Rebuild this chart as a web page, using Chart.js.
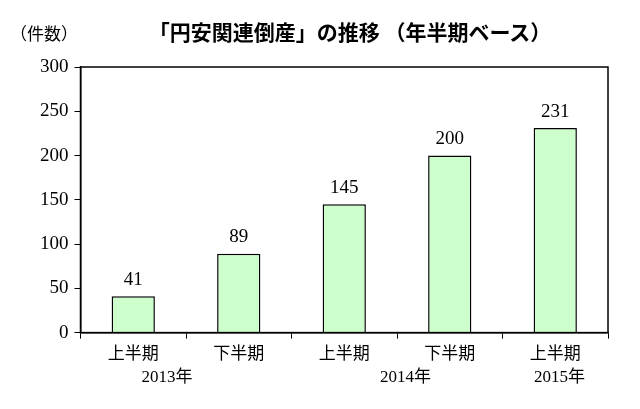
<!DOCTYPE html>
<html lang="ja">
<head>
  <meta charset="UTF-8">
  <title>円安関連倒産の推移</title>
  <script src="https://cdn.jsdelivr.net/npm/chart.js"></script>
  <style>
    body { margin: 0; background: #fff; }
    #wrap { position: relative; width: 640px; height: 409px; }
    #title { position: absolute; left: 0; width: 640px; top: 16px; text-align: center; padding-left: 60px; box-sizing: border-box;
      font: bold 21px "Noto Sans CJK JP", sans-serif; color: #000; }
    #unit { position: absolute; left: 10px; top: 20px; font: 17px "Noto Sans CJK JP", sans-serif; }
  </style>
</head>
<body>
  <div id="wrap">
    <div id="title">「円安関連倒産」の推移 （年半期ベース）</div>
    <div id="unit">（件数）</div>
    <canvas id="c" width="640" height="409"></canvas>
  </div>
  <script>
    const halves = ['上半期', '下半期', '上半期', '下半期', '上半期'];
    const counts = [41, 89, 145, 200, 231];
    const years = [['2013年', 0.32], ['2014年', 2.58], ['2015年', 4.04]];

    const barLabels = {
      id: 'barLabels',
      afterDatasetsDraw(chart) {
        const ctx = chart.ctx;
        const meta = chart.getDatasetMeta(0);
        ctx.save();
        ctx.font = '19px "Liberation Serif", serif';
        ctx.fillStyle = '#000';
        ctx.textAlign = 'center';
        ctx.textBaseline = 'bottom';
        meta.data.forEach((bar, i) => ctx.fillText(counts[i], bar.x, bar.y - 7));
        const x = chart.scales.x;
        ctx.font = '17px "Liberation Serif", "Noto Sans CJK JP", serif';
        ctx.textBaseline = 'middle';
        years.forEach(([t, v]) => ctx.fillText(t, x.getPixelForValue(v), 378));
        ctx.restore();
      }
    };

    new Chart(document.getElementById('c'), {
      type: 'bar',
      data: {
        labels: halves,
        datasets: [{
          data: counts,
          backgroundColor: '#ccffcc',
          borderColor: '#000',
          borderWidth: 1.5,
          categoryPercentage: 1,
          barPercentage: 0.41
        }]
      },
      options: {
        responsive: false,
        animation: false,
        layout: { padding: { top: 67, right: 32, bottom: 42, left: 34 } },
        plugins: { legend: { display: false }, tooltip: { enabled: false } },
        scales: {
          x: {
            grid: { offset: true, drawOnChartArea: false, color: '#000', tickLength: 6 },
            border: { color: '#000', width: 1.5 },
            ticks: { color: '#000', font: { size: 17, family: '"Noto Sans CJK JP", sans-serif' }, padding: 4 }
          },
          y: {
            min: 0, max: 300,
            grid: { drawOnChartArea: false, color: '#000', tickLength: 6 },
            border: { color: '#000', width: 1.5 },
            ticks: { stepSize: 50, color: '#000', font: { size: 19, family: '"Liberation Serif", serif' }, padding: 6 }
          }
        }
      },
      plugins: [barLabels, {
        id: 'box',
        afterDraw(chart) {
          const a = chart.chartArea, ctx = chart.ctx;
          ctx.save();
          ctx.strokeStyle = '#000';
          ctx.lineWidth = 1.5;
          ctx.strokeRect(a.left, a.top, a.right - a.left, a.bottom - a.top);
          ctx.restore();
        }
      }]
    });
  </script>
</body>
</html>
